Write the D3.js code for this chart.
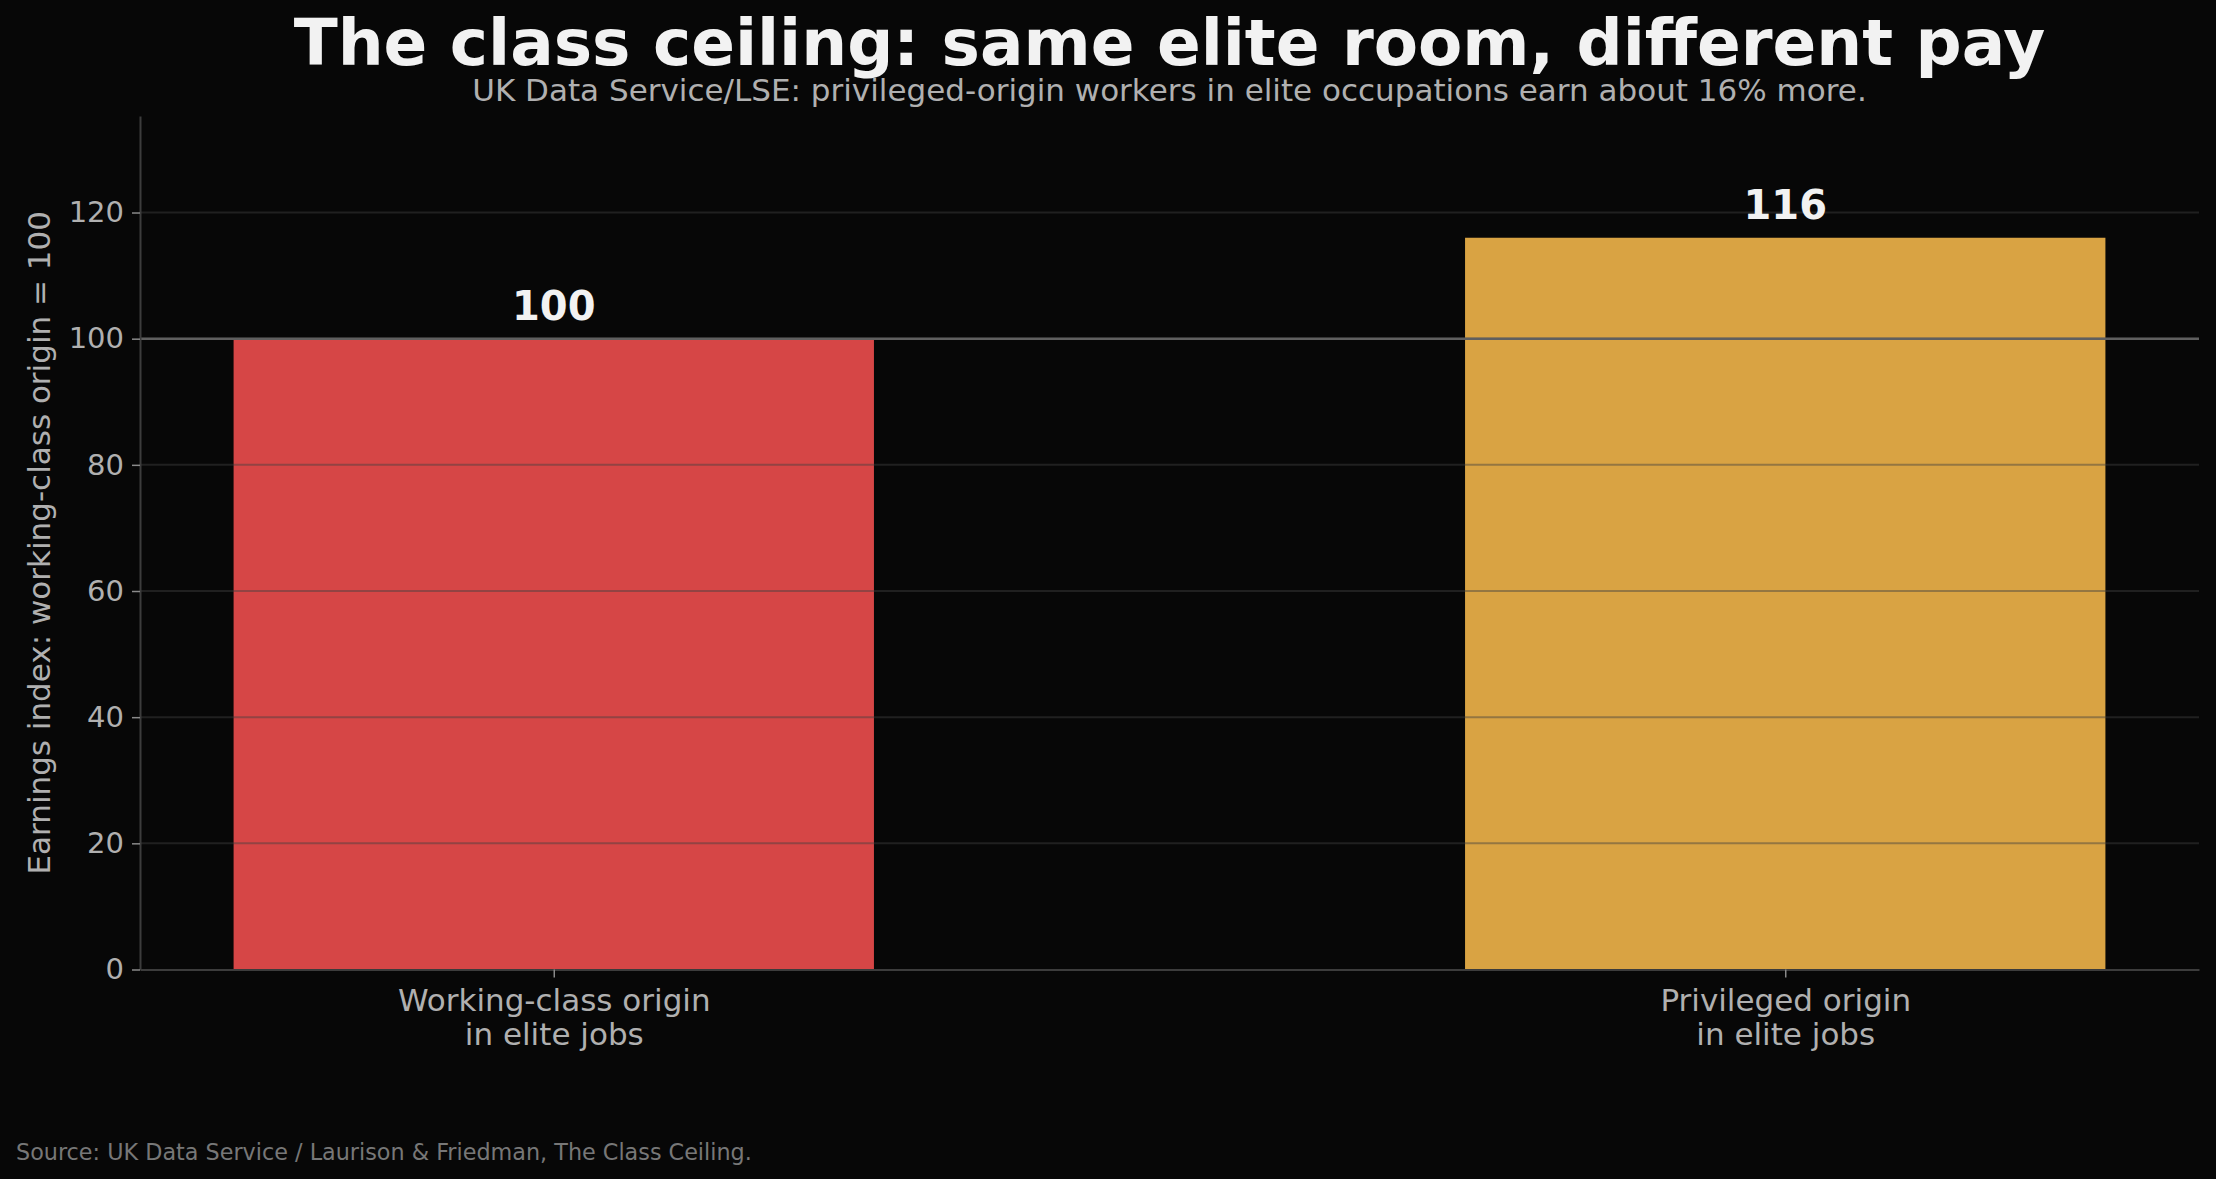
<!DOCTYPE html>
<html><head><meta charset="utf-8">
<script src="https://cdn.jsdelivr.net/npm/d3@7"></script>
<style>
html,body{margin:0;padding:0;background:#070707;}
svg{display:block;font-family:"DejaVu Sans",sans-serif;}
</style></head>
<body>
<svg id="chart" width="2216" height="1179"></svg>
<script>
const categories = ["Working-class origin\nin elite jobs", "Privileged origin\nin elite jobs"];
const values = [100, 116];
const barColors = ["#d64646", "#d9a343"];
const yTicks = [0, 20, 40, 60, 80, 100, 120];
const referenceValue = 100;
const title = "The class ceiling: same elite room, different pay";
const subtitle = "UK Data Service/LSE: privileged-origin workers in elite occupations earn about 16% more.";
const yLabel = "Earnings index: working-class origin = 100";
const source = "Source: UK Data Service / Laurison & Friedman, The Class Ceiling.";

const W = 2216, H = 1179;
const m = {left: 140, right: 2199, top: 116, bottom: 969.5};
const svg = d3.select("#chart");
svg.append("rect").attr("width", W).attr("height", H).attr("fill", "#070707");

const barW = 0.52;
const x = d3.scaleLinear().domain([-0.336, 1.336]).range([m.left, m.right]);
const y = d3.scaleLinear().domain([0, 135.3]).range([m.bottom, m.top]);

// bars
svg.append("g").selectAll("rect").data(values).join("rect")
  .attr("x", (d, i) => x(i - barW / 2))
  .attr("width", (d, i) => x(i + barW / 2) - x(i - barW / 2))
  .attr("y", d => y(d))
  .attr("height", d => y(0) - y(d))
  .attr("fill", (d, i) => barColors[i]);

// grid lines (drawn over bars)
svg.append("g").selectAll("line").data(yTicks.filter(t => t > 0)).join("line")
  .attr("x1", m.left).attr("x2", m.right)
  .attr("y1", d => y(d)).attr("y2", d => y(d))
  .attr("stroke", "#404040").attr("stroke-opacity", 0.45).attr("stroke-width", 2);

// reference line
svg.append("line")
  .attr("x1", m.left).attr("x2", m.right)
  .attr("y1", y(referenceValue)).attr("y2", y(referenceValue))
  .attr("stroke", "#5f5f5f").attr("stroke-width", 2.5);

// y axis
const yAxis = svg.append("g").attr("transform", `translate(${m.left},0)`)
  .call(d3.axisLeft(y).tickValues(yTicks).tickSizeInner(8).tickSizeOuter(0).tickPadding(8));
yAxis.select(".domain").attr("stroke", "#3c3c3c").attr("stroke-width", 2);
yAxis.selectAll(".tick line").attr("stroke", "#8a8a8a").attr("stroke-width", 1.5);
yAxis.selectAll(".tick text").attr("fill", "#b0b0b0").attr("font-size", 29)
  .attr("font-family", "DejaVu Sans");

// x axis
const xAxis = svg.append("g").attr("transform", `translate(0,${m.bottom})`)
  .call(d3.axisBottom(x).tickValues([0, 1]).tickSizeInner(8).tickSizeOuter(0).tickPadding(10).tickFormat(""));
xAxis.select(".domain").attr("stroke", "#3c3c3c").attr("stroke-width", 2);
xAxis.selectAll(".tick line").attr("stroke", "#8a8a8a").attr("stroke-width", 1.5);
xAxis.selectAll(".tick").each(function(d, i) {
  const lines = categories[i].split("\n");
  const t = d3.select(this).append("text").attr("fill", "#b0b0b0")
    .attr("font-size", 31).attr("text-anchor", "middle").attr("font-family", "DejaVu Sans");
  lines.forEach((l, j) => t.append("tspan").attr("x", 0).attr("y", 41 + j * 34).text(l));
});

// value labels
svg.append("g").selectAll("text").data(values).join("text")
  .attr("x", (d, i) => x(i)).attr("y", d => y(d) - 18.5)
  .attr("text-anchor", "middle").attr("fill", "#f2f2f2")
  .attr("font-size", 40).attr("font-weight", "bold")
  .text(d => d);

// y label
svg.append("text")
  .attr("transform", `translate(50,${(m.top + m.bottom) / 2}) rotate(-90)`)
  .attr("text-anchor", "middle").attr("fill", "#b0b0b0").attr("font-size", 31)
  .text(yLabel);

// title & subtitle
const cx = (m.left + m.right) / 2;
svg.append("text").attr("x", cx).attr("y", 65).attr("text-anchor", "middle")
  .attr("fill", "#f2f2f2").attr("font-size", 64.5).attr("font-weight", "bold").text(title);
svg.append("text").attr("x", cx).attr("y", 100.5).attr("text-anchor", "middle")
  .attr("fill", "#b0b0b0").attr("font-size", 31).text(subtitle);

// source
svg.append("text").attr("x", 16).attr("y", 1160)
  .attr("fill", "#777").attr("font-size", 22.3).text(source);
</script>
</body></html>
